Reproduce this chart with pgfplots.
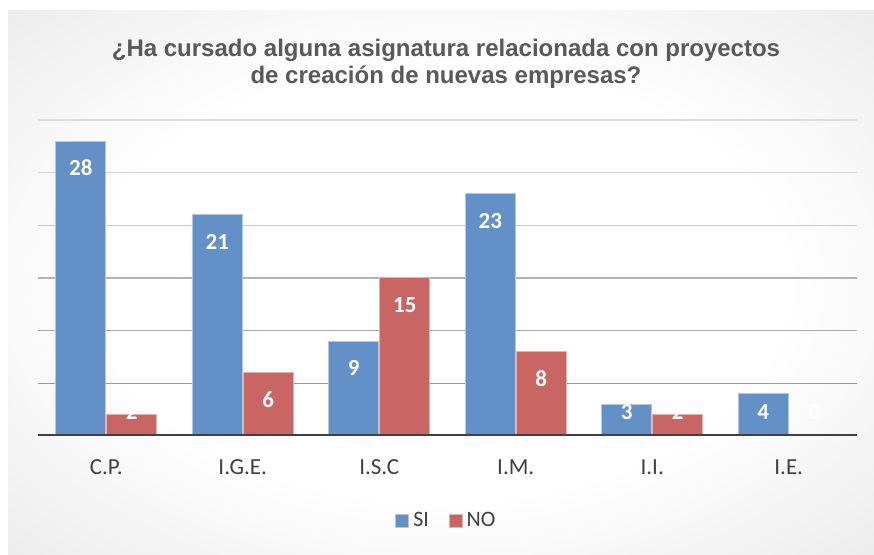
\documentclass[border=0pt]{standalone}
\usepackage{pgfplots}
\pgfplotsset{compat=1.18}
\usepackage{fontspec}
\setmainfont{Carlito}
\newfontfamily\titlefont{Liberation Sans}
\definecolor{siblue}{HTML}{6390C6}
\definecolor{nored}{HTML}{C96563}
\definecolor{basegray}{HTML}{404040}
\definecolor{titlegray}{HTML}{595959}
\definecolor{bgmid}{gray}{0.93}
\definecolor{bgedge}{gray}{0.83}
\definecolor{bgcorner}{gray}{0.77}
\pgfdeclareradialshading{chartbg}{\pgfpoint{0bp}{0bp}}{color(0bp)=(white); color(20bp)=(white); color(35bp)=(bgmid); color(50bp)=(bgedge); color(71bp)=(bgcorner); color(100bp)=(bgcorner)}

\begin{document}
\begin{tikzpicture}
\path (0,0) rectangle (437pt,277.5pt);
\shade[shading=chartbg] (4pt,0pt) rectangle (437pt,272pt);
\node[font=\titlefont\bfseries\fontsize{12}{14}\selectfont, text=titlegray, anchor=base]
  at (223pt,249pt) {¿Ha cursado alguna asignatura relacionada con proyectos};
\node[font=\titlefont\bfseries\fontsize{12}{14}\selectfont, text=titlegray, anchor=base]
  at (223pt,235.5pt) {de creación de nuevas empresas?};
\begin{axis}[
  at={(19pt,59.5pt)}, anchor=south west,
  scale only axis, width=409.5pt, height=158pt,
  xmin=-0.5, xmax=5.5, ymin=0, ymax=30,
  ytick={5,10,...,30}, yticklabels={},
  xtick={0,...,5},
  xticklabels={C.P.,I.G.E.,I.S.C,I.M.,I.I.,I.E.},
  major tick length=0pt,
  axis line style={draw=none},
  xticklabel style={anchor=base, yshift=-19.5pt, font=\fontsize{11.5}{13}\selectfont, text=basegray},
  /pgf/number format/assume math mode=true,
  ybar, bar width=25pt,
  nodes near coords,
  visualization depends on={rawy \as \rawy},
  nodes near coords style={font=\bfseries\fontsize{11.5}{13}\selectfont, text=white, anchor=center,
    yshift={max(-13.5,12-\rawy*5.2667)}},
  legend style={at={(0.5,-0.269)}, anchor=center, draw=none, fill=none,
    legend columns=2, font=\fontsize{11}{13}\selectfont, text=basegray,
    /tikz/every even column/.append style={column sep=8pt}},
  sqlegend/.style={legend image code/.code={\draw[##1, line width=0.4pt] (0pt,-3.25pt) rectangle (6.5pt,3.25pt);}},
]
%% gridlines, darker towards the base
\draw[color={rgb,255:red,154;green,154;blue,154}, line width=0.7pt] (axis cs:-0.5,5) -- (axis cs:5.5,5);
\draw[color={rgb,255:red,168;green,168;blue,168}, line width=0.7pt] (axis cs:-0.5,10) -- (axis cs:5.5,10);
\draw[color={rgb,255:red,180;green,180;blue,180}, line width=0.7pt] (axis cs:-0.5,15) -- (axis cs:5.5,15);
\draw[color={rgb,255:red,200;green,200;blue,200}, line width=0.7pt] (axis cs:-0.5,20) -- (axis cs:5.5,20);
\draw[color={rgb,255:red,212;green,212;blue,212}, line width=0.7pt] (axis cs:-0.5,25) -- (axis cs:5.5,25);
\draw[color={rgb,255:red,220;green,220;blue,220}, line width=0.7pt] (axis cs:-0.5,30) -- (axis cs:5.5,30);
%% SI
\addplot[fill=siblue, draw=siblue!50!white, line width=0.5pt, bar shift=-12.75pt, sqlegend] coordinates {
  (0,28) (1,21) (2,9) (3,23) (4,3) (5,4)
};
\addlegendentry{SI}
%% NO
\addplot[fill=nored, draw=nored!50!white, line width=0.5pt, bar shift=12.75pt, sqlegend] coordinates {
  (0,2) (1,6) (2,15) (3,8) (4,2) (5,0)
};
\addlegendentry{NO}
\draw[basegray, line width=2pt] (axis cs:-0.5,0) -- (axis cs:5.5,0);
\end{axis}
\end{tikzpicture}
\end{document}
